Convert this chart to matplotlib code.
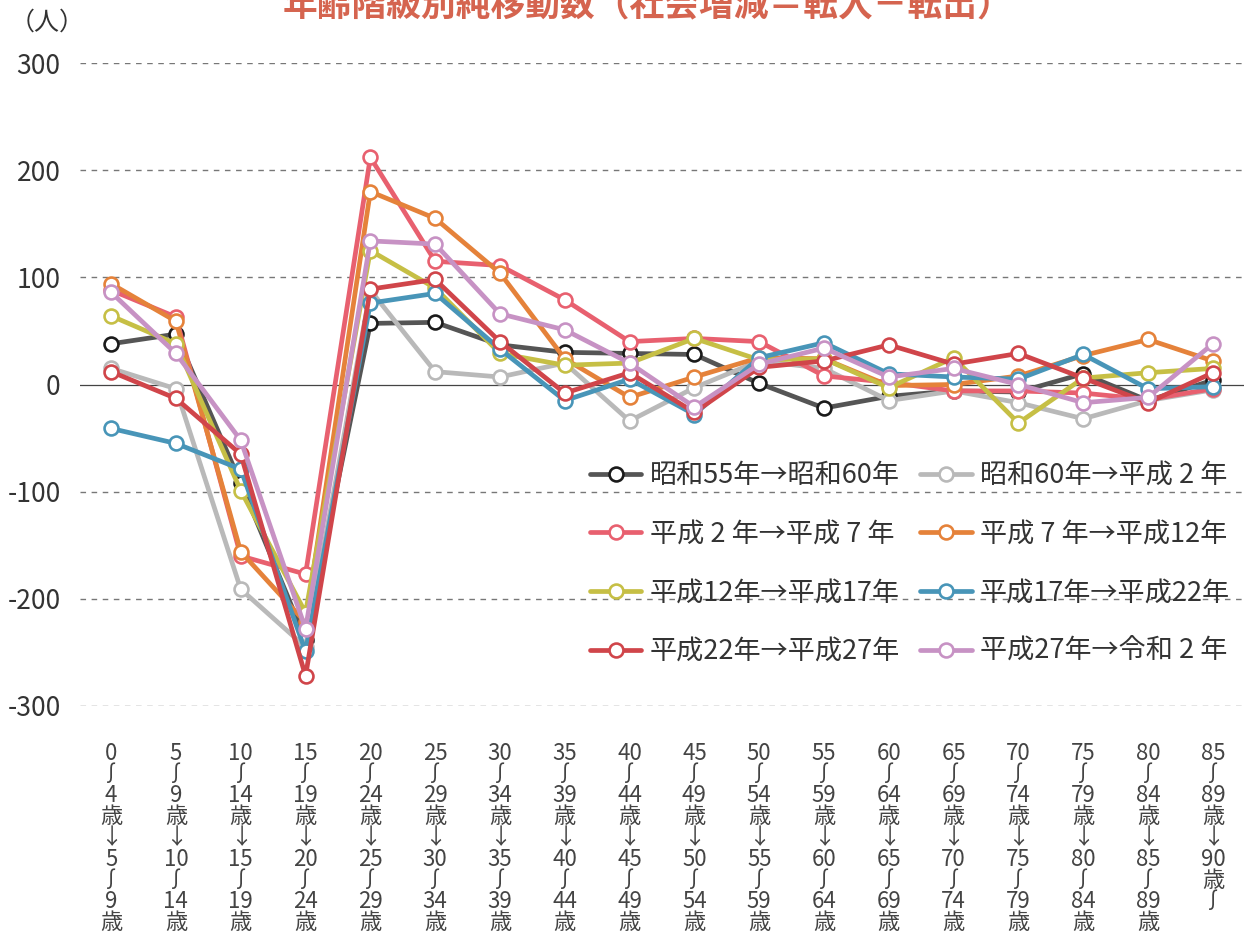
import matplotlib
matplotlib.use("Agg")
import matplotlib.pyplot as plt

plt.rcParams['font.family'] = ['Noto Sans CJK JP', 'DejaVu Sans']

age_start = [0, 5, 10, 15, 20, 25, 30, 35, 40, 45, 50, 55, 60, 65, 70, 75, 80, 85]

series_names = [
    "昭和55年→昭和60年", "昭和60年→平成 2 年",
    "平成 2 年→平成 7 年", "平成 7 年→平成12年",
    "平成12年→平成17年", "平成17年→平成22年",
    "平成22年→平成27年", "平成27年→令和 2 年",
]

s55_60 = [38, 47, -92, -238, 57, 58, 37, 30, 29, 28, 1, -22, -11, -6, -7, 10, -15, 4]
s60_h2 = [15, -4, -191, -245, 88, 12, 7, 20, -34, -3, 22, 15, -15, -6, -17, -32, -15, -5]
h2_h7 = [88, 63, -160, -177, 212, 115, 111, 79, 40, 43, 40, 8, 2, -6, -6, -8, -14, -4]
h7_h12 = [94, 59, -156, -222, 180, 155, 104, 24, -12, 7, 25, 24, -1, 0, 8, 27, 42, 22]
h12_h17 = [64, 38, -99, -213, 125, 90, 29, 18, 20, 43, 23, 24, -3, 25, -36, 6, 11, 15]
h17_h22 = [-41, -55, -79, -249, 76, 85, 33, -15, 5, -28, 25, 39, 10, 7, 5, 28, -4, -2]
h22_h27 = [12, -13, -65, -272, 89, 98, 40, -8, 11, -26, 16, 22, 37, 19, 29, 6, -17, 11]
h27_r2 = [86, 29, -52, -228, 134, 131, 66, 51, 20, -21, 19, 34, 7, 15, 0, -17, -12, 38]

series_values = [s55_60, s60_h2, h2_h7, h7_h12, h12_h17, h17_h22, h22_h27, h27_r2]
line_colors = ["#555555", "#b9b9b9", "#e8606f", "#e5823a", "#c6bf45", "#4895b8", "#d0454a", "#c792c4"]
edge_colors = ["#1a1a1a", "#b9b9b9", "#e8606f", "#e5823a", "#c6bf45", "#4895b8", "#d0454a", "#c792c4"]

y_ticks = [300, 200, 100, 0, -100, -200, -300]

def make_label(a):
    if a == 85:
        return "85\n∫\n89\n歳\n↓\n90\n歳\n∫"
    return f"{a}\n∫\n{a+4}\n歳\n↓\n{a+5}\n∫\n{a+9}\n歳"

x_labels = [make_label(a) for a in age_start]

W, H = 1244, 936
fig = plt.figure(figsize=(W / 100, H / 100), dpi=100)
ax = fig.add_axes([80 / W, 230 / H, (W - 80) / W, 643 / H])

xs = list(range(len(age_start)))
handles = []
for vals, lc, ec, name in zip(series_values, line_colors, edge_colors, series_names):
    h, = ax.plot(xs, vals, color=lc, lw=3.4, marker='o', markersize=10,
                 markerfacecolor='white', markeredgecolor=ec, markeredgewidth=1.9,
                 label=name, clip_on=False, solid_capstyle='round')
    handles.append(h)

ax.set_xlim(-0.48, 17.48)
ax.set_ylim(-300, 300)
for v in y_ticks:
    if v == 0:
        ax.axhline(0, color='#444444', lw=0.9, zorder=0)
    else:
        ax.axhline(v, color='#777777', lw=1.0, ls=(0, (4, 4)), zorder=0)

for s in ax.spines.values():
    s.set_visible(False)

ax.set_yticks(y_ticks)
ax.set_yticklabels([str(v) for v in y_ticks], fontsize=19, color='#333333')
ax.tick_params(axis='y', length=0, pad=14)
ax.set_xticks(xs)
ax.set_xticklabels(x_labels, fontsize=16, color='#444444', linespacing=0.895)
ax.tick_params(axis='x', length=0, pad=26)

fig.text(10 / W, 1 - 23 / H, "（人）", fontsize=18, color='#333333', ha='left', va='center')
fig.text(648 / W, 1 - 5 / H, "年齢階級別純移動数（社会増減＝転入－転出）", fontsize=25,
         fontweight='bold', color='#d5644f', ha='center', va='center')

# row-wise legend order for a 2-column legend
order = [0, 2, 4, 6, 1, 3, 5, 7]
leg = ax.legend([handles[i] for i in order], [series_names[i] for i in order],
                loc='upper left', bbox_to_anchor=(590 / W, 1 - 462 / H),
                bbox_transform=fig.transFigure, ncol=2, frameon=False,
                fontsize=19.5, handlelength=1.9, handletextpad=0.3,
                labelspacing=1.17, columnspacing=0.75, borderpad=0, borderaxespad=0)
for t in leg.get_texts():
    t.set_color('#333333')

fig.savefig("out.png", dpi=100)
